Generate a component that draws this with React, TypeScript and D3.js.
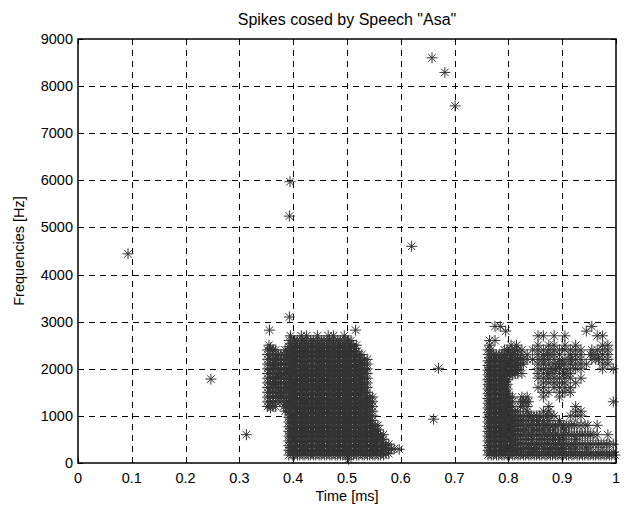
import React from "react";
import * as d3 from "d3";

const W = 627;
const H = 505;
const margin = { left: 78, right: 10, top: 39, bottom: 42 };

const titleText = 'Spikes cosed by Speech "Asa"';
const xLabel = "Time [ms]";
const yLabel = "Frequencies [Hz]";

const xTicks = [0, 0.1, 0.2, 0.3, 0.4, 0.5, 0.6, 0.7, 0.8, 0.9, 1];
const xTickLabels = ["0", "0.1", "0.2", "0.3", "0.4", "0.5", "0.6", "0.7", "0.8", "0.9", "1"];
const yTicks = [0, 1000, 2000, 3000, 4000, 5000, 6000, 7000, 8000, 9000];

// isolated spikes
const sparseTimes = [0.093, 0.247, 0.313, 0.394, 0.393, 0.393, 0.356, 0.358, 0.358, 0.516, 0.597, 0.503, 0.658, 0.682, 0.701, 0.62, 0.67, 0.661];
const sparseFreqs = [4440, 1780, 600, 5970, 5240, 3100, 2820, 2440, 1170, 2820, 290, 80, 8600, 8290, 7580, 4600, 2010, 930];

// dense spike clusters: one string per frequency channel, one char per 0.01 time bin,
// digit = number of spikes in that bin
const rowFreqs = [2900, 2800, 2700, 2600, 2500, 2400, 2300, 2200, 2100, 2000, 1900, 1800, 1700, 1600, 1500, 1400, 1300, 1200, 1100, 1000, 900, 800, 700, 600, 500, 400, 300, 200];
const timeStep = 0.01;

const leftStart = 0.355;
const leftRows = [
  "",
  "",
  "....1.11.1.11.1",
  "....222222222222",
  "1...3333333333332",
  "22.13333333333333",
  "222233333333333332",
  "2222333333333333332",
  "2322333333333333332",
  "2222333333333333332",
  "2232333333333333332",
  "2222333333333333332",
  "2322333333333333332",
  "2222333333333333332",
  "2232333333333333332",
  "22223333333333333332",
  "22123333333333333332",
  "22.23333333333333332",
  "...13333333333333332",
  "....3333333333333332",
  "....3333333333333332",
  "....33333333333333332",
  "....33333333333333332",
  "....333333333333333332",
  "....333333333333333332",
  "....3333333333333333332",
  "....33333333333333333322",
  "....3333333333333333332",
];

const rightStart = 0.765;
const rightRows = [
  ".11................1....",
  "...1..............1.....",
  ".........11.1.1.....11..",
  "11......................",
  "1...11...1.11.1.1....11.",
  "2..2121.1111111111.1111.",
  "22222211.11211.111.2111.",
  "333332211121111211.1211.",
  "3333332..1111211111..11.",
  "333333...111211111...1.1",
  "3333321..1121121........",
  "3333.....1111111.1......",
  "3333......11111.1.......",
  "3333.....11.1111........",
  "3333......11.111........",
  "33332.11..1..1..........",
  "33332.22...............1",
  "33332.21...1....1.......",
  "333322.1..11....11......",
  "3333322222121..111......",
  "333332211211.1..........",
  "3333322222222222212.1...",
  "3333322112111.1.........",
  "333332222222222222221.1.",
  "333332121121211.1.......",
  "333332222222222222222221",
  "33333221211212111.1.....",
  "333333333333333333333333",
];

// fixed placement of n spikes inside one bin (time offset, frequency offset)
const binLayouts: [number, number][][] = [
  [],
  [[0, 0]],
  [[-0.0025, 0], [0.0025, 0]],
  [[-0.003, -30], [0.003, -30], [0, 30]],
];

function rasterPoints(start: number, rows: string[]) {
  const pts: [number, number][] = [];
  rows.forEach((row, i) => {
    for (let j = 0; j < row.length; j++) {
      const n = parseInt(row[j], 10);
      if (!n) continue;
      binLayouts[n].forEach(([dt, df]) => pts.push([start + j * timeStep + dt, rowFreqs[i] + df]));
    }
  });
  return pts;
}

export default function App() {
  const x = d3.scaleLinear().domain([0, 1]).range([margin.left, W - margin.right - 1]);
  const y = d3.scaleLinear().domain([0, 9000]).range([H - margin.bottom, margin.top]);
  const x0 = x(0), x1 = x(1), y0 = y(0), y1 = y(9000);

  const pts: [number, number][] = [
    ...rasterPoints(leftStart, leftRows),
    ...rasterPoints(rightStart, rightRows),
    ...sparseTimes.map((t, i) => [t, sparseFreqs[i]] as [number, number]),
  ];

  const r = 5.5;
  const d = 3.8;
  const star = `M${-r},0L${r},0M0,${-r}L0,${r}M${-d},${-d}L${d},${d}M${-d},${d}L${d},${-d}`;
  const font = "'Liberation Sans', Arial, Helvetica, sans-serif";
  const tickLen = 5;

  return (
    <svg width={W} height={H} style={{ position: "absolute", left: 0, top: 0, background: "#fff" }}>
      <rect x={0} y={0} width={W} height={H} fill="#fff" />
      <g stroke="#000" strokeWidth={1} strokeDasharray="6,5" fill="none">
        {xTicks.slice(1, -1).map((t) => (
          <line key={"gx" + t} x1={Math.round(x(t)) + 0.5} x2={Math.round(x(t)) + 0.5} y1={y1} y2={y0} />
        ))}
        {yTicks.slice(1, -1).map((v) => (
          <line key={"gy" + v} x1={x0} x2={x1} y1={Math.round(y(v)) + 0.5} y2={Math.round(y(v)) + 0.5} />
        ))}
      </g>
      <g stroke="#000" strokeWidth={1}>
        {xTicks.map((t) => {
          const xx = Math.round(x(t)) + 0.5;
          return (
            <g key={"tx" + t}>
              <line x1={xx} x2={xx} y1={y0} y2={y0 - tickLen} />
              <line x1={xx} x2={xx} y1={y1} y2={y1 + tickLen} />
            </g>
          );
        })}
        {yTicks.map((v) => {
          const yy = Math.round(y(v)) + 0.5;
          return (
            <g key={"ty" + v}>
              <line x1={x0} x2={x0 + tickLen} y1={yy} y2={yy} />
              <line x1={x1} x2={x1 - tickLen} y1={yy} y2={yy} />
            </g>
          );
        })}
      </g>
      <g stroke="#333" strokeWidth={1} fill="none">
        {pts.map((p, i) => (
          <path key={i} d={star} transform={`translate(${x(p[0]).toFixed(1)},${y(p[1]).toFixed(1)})`} />
        ))}
      </g>
      <rect x={x0} y={y1} width={x1 - x0} height={y0 - y1} fill="none" stroke="#000" strokeWidth={1.5} />
      <g fontFamily={font} fontSize={14.5} fill="#000">
        {xTicks.map((t, i) => (
          <text key={"lx" + t} x={x(t)} y={y0 + 20} textAnchor="middle">
            {xTickLabels[i]}
          </text>
        ))}
        {yTicks.map((v) => (
          <text key={"ly" + v} x={x0 - 5} y={y(v) + 5} textAnchor="end">
            {v}
          </text>
        ))}
      </g>
      <text x={(x0 + x1) / 2} y={y0 + 38} textAnchor="middle" fontFamily={font} fontSize={14.5}>
        {xLabel}
      </text>
      <text
        transform={`translate(24,${(y0 + y1) / 2}) rotate(-90)`}
        textAnchor="middle"
        fontFamily={font}
        fontSize={14.5}
      >
        {yLabel}
      </text>
      <text x={(x0 + x1) / 2} y={y1 - 14} textAnchor="middle" fontFamily={font} fontSize={16}>
        {titleText}
      </text>
    </svg>
  );
}
